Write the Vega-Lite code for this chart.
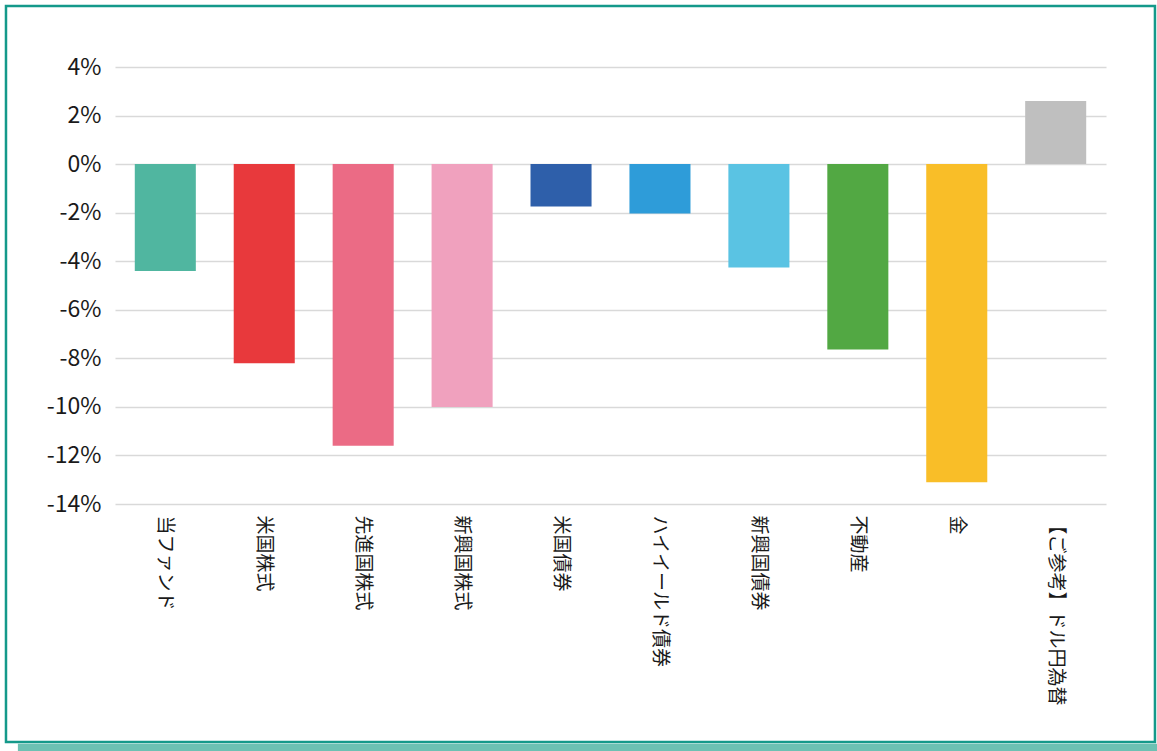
{
  "$schema": "https://vega.github.io/schema/vega-lite/v6.json",
  "autosize": "none",
  "padding": {"left": 115, "top": 67, "right": 51, "bottom": 247},
  "width": 991,
  "height": 437,
  "background": "white",
  "config": {"view": {"stroke": null}, "font": "Noto Sans CJK JP"},
  "datasets": {
    "returns": [
      {"asset": "当ファンド", "value": -4.4},
      {"asset": "米国株式", "value": -8.2},
      {"asset": "先進国株式", "value": -11.6},
      {"asset": "新興国株式", "value": -10.0},
      {"asset": "米国債券", "value": -1.75},
      {"asset": "ハイイールド債券", "value": -2.03},
      {"asset": "新興国債券", "value": -4.26},
      {"asset": "不動産", "value": -7.64},
      {"asset": "金", "value": -13.1},
      {"asset": "【ご参考】ドル円為替", "value": 2.6}
    ],
    "frame": [{"part": "frame"}]
  },
  "layer": [
    {
      "data": {"name": "frame"},
      "mark": {"type": "rect", "fill": "#6CC1B3", "clip": false},
      "encoding": {
        "x": {"datum": -0.098, "type": "quantitative", "scale": {"domain": [0, 1], "nice": false, "zero": false}, "axis": null},
        "x2": {"datum": 1.07},
        "y": {"datum": -23.88, "type": "quantitative", "scale": {"domain": [-14, 4], "nice": false, "zero": false}},
        "y2": {"datum": -24.6}
      }
    },
    {
      "data": {"name": "frame"},
      "mark": {"type": "rect", "fill": null, "stroke": "#14998A", "strokeWidth": 2.5, "clip": false},
      "encoding": {
        "x": {"datum": -0.110, "type": "quantitative", "scale": {"domain": [0, 1], "nice": false, "zero": false}, "axis": null},
        "x2": {"datum": 1.0494},
        "y": {"datum": 6.51, "type": "quantitative"},
        "y2": {"datum": -23.80}
      }
    },
    {
      "data": {"name": "returns"},
      "mark": {"type": "bar"},
      "encoding": {
        "x": {
          "field": "asset",
          "type": "nominal",
          "sort": null,
          "scale": {"paddingInner": 0.383, "paddingOuter": 0.2},
          "axis": {
            "title": null,
            "orient": "bottom",
            "labelAngle": 90,
            "labelFontSize": 19,
            "labelColor": "#1a1a1a",
            "labelPadding": 11,
            "labelLimit": 400,
            "ticks": false,
            "domain": false,
            "grid": false
          }
        },
        "y": {
          "field": "value",
          "type": "quantitative",
          "scale": {"domain": [-14, 4], "nice": false, "zero": false},
          "axis": {
            "title": null,
            "values": [-14, -12, -10, -8, -6, -4, -2, 0, 2, 4],
            "labelExpr": "datum.value + '%'",
            "labelFontSize": 23,
            "labelColor": "#1a1a1a",
            "labelPadding": 14,
            "ticks": false,
            "domain": false,
            "grid": true,
            "gridColor": "#D9D9D9",
            "gridWidth": 1.5
          }
        },
        "y2": {"datum": 0},
        "color": {
          "field": "asset",
          "type": "nominal",
          "legend": null,
          "scale": {
            "domain": ["当ファンド", "米国株式", "先進国株式", "新興国株式", "米国債券", "ハイイールド債券", "新興国債券", "不動産", "金", "【ご参考】ドル円為替"],
            "range": ["#50B6A0", "#E8393C", "#EB6B85", "#F0A1BE", "#2E5FAA", "#2E9CD9", "#5AC3E3", "#52A843", "#F9BE28", "#BFBFBF"]
          }
        }
      }
    }
  ],
  "resolve": {"scale": {"x": "independent", "color": "independent"}}
}
